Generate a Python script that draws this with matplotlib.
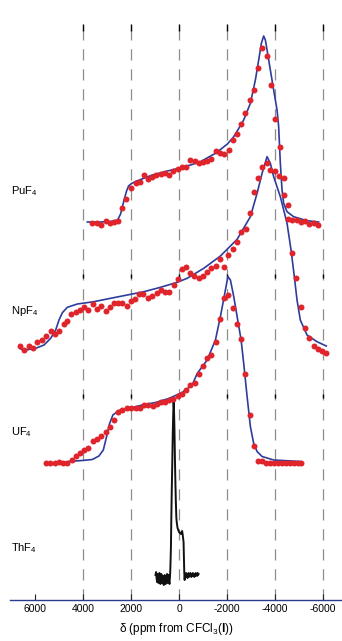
import matplotlib
matplotlib.use("Agg")
import matplotlib.pyplot as plt
import numpy as np

plt.rcParams['font.family'] = ['Liberation Sans', 'DejaVu Sans']
plt.rcParams['mathtext.fontset'] = 'custom'
plt.rcParams['mathtext.rm'] = 'Liberation Sans'
plt.rcParams['mathtext.it'] = 'Liberation Sans:italic'
plt.rcParams['mathtext.bf'] = 'Liberation Sans:bold'

# ---------------- data (ppm, intensity above own baseline) ----------------
pu_pts_ppm = [3611, 3432, 3266, 3058, 2891, 2712, 2546, 2363, 2196, 2018, 1810, 1643, 1464, 1281,
              1115, 948, 770, 591, 424, 241, 62, -133, -300, -478, -657, -824, -1007, -1173,
              -1340, -1531, -1726, -1893, -2072, -2238, -2421, -2600, -2766, -2945, -3112,
              -3295, -3461, -3652, -3819, -4014, -4193, -4360, -4526, -4543, -4722, -4900,
              -5067, -5250, -5429, -5608, -5774]
pu_pts_int = [0, 0, -2, 2, 0, 1, 2, 15, 24, 35, 40, 41, 48, 44,
              46, 48, 49, 50, 48, 52, 54, 56, 56, 63, 62, 60, 61, 62,
              64, 72, 70, 69, 73, 83, 89, 99, 110, 123, 133,
              155, 175, 167, 138, 104, 76, 28, 18, 4, 3, 3,
              1, 2, -1, 0, -2]
pu_fit_ppm = [3819, 3266, 2850, 2558, 2434, 2350, 2267, 2184, 2101, 1976, 1810, 1115, 562, 8,
              -478, -894, -1518, -1726, -2018, -2280, -2475, -2696, -2974, -3182, -3320, -3432,
              -3528, -3598, -3669, -3806, -3944, -4085, -4152, -4222, -4293, -4360, -4501,
              -4776, -5333, -5816]
pu_fit_int = [1, 1, 1.5, 3, 9, 17, 25, 32, 37, 39.5, 41.5, 48, 51.5, 54.7,
              58, 61.3, 69.7, 73.5, 79, 86.3, 94, 103, 119.7, 143, 163, 179.7,
              187, 183, 173, 153, 133, 113, 96.3, 59.7, 33, 19.7, 11.3,
              6.3, 2.3, 1]

np_pts_ppm = [6623, 6456, 6248, 6065, 5899, 5720, 5541, 5346, 5179, 5000, 4792, 4651, 4484, 4306,
              4139, 3960, 3777, 3598, 3432, 3266, 3058, 2891, 2712, 2529, 2363, 2184, 2018, 1839,
              1656, 1489, 1298, 1115, 936, 770, 591, 408, 216, 42, -133, -300, -478, -645, -824,
              -990, -1173, -1352, -1531, -1697, -1893, -2059, -2238, -2421, -2588, -2779, -2945,
              -3128, -3295, -3474, -3669, -3806, -4002, -4181, -4360, -4722, -4888, -5067, -5233,
              -5429, -5608, -5791, -5970, -6136]
np_pts_int = [4, 0, 4, 2, 8, 10, 14, 19, 16, 19, 26, 29, 36, 38,
              40, 43, 40, 46, 41, 44, 39, 43, 47, 47, 47, 44, 49, 51,
              56, 56, 52, 54, 57, 60, 58, 58, 65, 71, 81.5, 83, 77, 74, 72,
              74, 78, 82, 84, 91, 83, 95, 101, 108, 118, 121, 137,
              158, 172, 183, 187, 180, 179, 174, 172, 97, 72, 43, 22,
              12, 4, 1, -1, -3]
np_fit_ppm = [6594, 6386, 5970, 5624, 5346, 5138, 5000, 4859, 4651, 4235, 3544, 2850, 2155, 1464,
              770, 75, -341, -1032, -1726, -2421, -2974, -3253, -3461, -3669, -3806, -3944,
              -4222, -4501, -4668, -4805, -4917, -5054, -5333, -5749, -6136]
np_fit_int = [1, 0, 1.7, 5, 11.7, 20, 30, 37.3, 42.7, 46, 48.3, 51.7, 55, 58.3,
              62.7, 67.7, 71.7, 81.7, 94, 110.7, 133.3, 156.7, 176.7, 193.3, 186.7, 173.3,
              153.3, 126.7, 100, 73.3, 50, 30, 15, 8.3, 4]

u_pts_ppm = [5554, 5375, 5179, 5000, 4817, 4651, 4472, 4306, 4127, 3944, 3777, 3586, 3420, 3236,
             3058, 2891, 2712, 2529, 2363, 2184, 1988, 1810, 1631, 1464, 1281, 1102, 936, 757,
             591, 424, 241, 50, -133, -300, -478, -653, -824, -1007, -1173, -1352, -1539, -1706,
             -1872, -2059, -2234, -2413, -2588, -2766, -2945, -3112, -3295, -3461, -3628, -3806,
             -3973, -4139, -4306, -4472, -4638, -4805, -4971, -5083]
u_pts_int = [0, 0, 0, 1, 0, 0, 2.5, 7, 10, 12.5, 15, 21.5, 24, 27,
             31, 36, 42.5, 51, 52.5, 55, 54.5, 54.5, 55, 58, 57.5, 57, 58.5, 60.5,
             61, 63, 64, 67, 69, 72.5, 77.5, 79.5, 89, 97, 105, 107.5, 121, 143.5,
             165, 168, 155, 139, 123.5, 89, 48, 17, 1.5, 2, -0.5, -0.5,
             -0.5, -0.5, -0.5, -0.5, -0.5, -0.5, -0.5, -0.5]
u_fit_ppm = [4597, 4027, 3611, 3336, 3153, 3016, 2891, 2754, 2504, 2088, 1531, 978, 424, -133,
             -549, -757, -1173, -1518, -1726, -1934, -2038, -2142, -2280, -2446, -2588, -2696,
             -2837, -2974, -3112, -3253, -3461, -3944, -5054]
u_fit_int = [1, 2, 3, 6.5, 12.5, 26, 39, 47.5, 52, 54, 57.5, 60, 64, 70,
             77.5, 89, 102.5, 122.5, 146, 172.5, 186, 182.5, 166, 142.5, 122.5, 99,
             66, 36, 19, 11, 6, 2.5, 1]

th_ppm = [980, 955, 935, 915, 895, 875, 855, 835, 815, 795, 775, 755, 735, 715, 695, 675, 655,
          635, 615, 595, 575, 555, 535, 515, 495, 475, 455, 435, 415, 395, 380, 365, 350,
          335, 320, 300, 280, 260, 240, 225, 210, 190, 170, 150, 130, 110, 90, 60, 30, 0,
          -40, -80, -110, -130, -150, -170, -190, -205, -220, -235, -255, -275, -295, -315,
          -335, -355, -375, -395, -415, -435, -455, -475, -495, -515, -535, -555, -575, -595,
          -615, -635, -655, -675, -695, -715, -735, -755, -775, -795, -815]
th_int = [3, 6, 0, -4, 4, 1, -5, 2, 5, -2, -6, 0, 4, -3, -5, 2, -4, -7, 0, 3, -2, -6, 2, -3, 4,
          -5, -1, 3, -4, -6, 0, 6, 18, 32, 60, 90, 115, 145, 165, 176, 170, 150, 120, 95, 75, 60,
          55, 50, 48, 46, 45, 44, 46, 47, 44, 40, 36, 20, 5, -2, 4, 1, 5, 2, 4, 0, 3, 5, 1, 4, 2,
          5, 3, 1, 4, 2, 5, 3, 4, 1, 4, 2, 5, 3, 4, 2, 5, 3, 4]

labels = ['PuF$_4$', 'NpF$_4$', 'UF$_4$', 'ThF$_4$']
xticks = [6000, 4000, 2000, 0, -2000, -4000, -6000]
xticklabels = ['6000', '4000', '2000', '0', '-2000', '-4000', '-6000']
grid_ppm = [4000, 2000, 0, -2000, -4000, -6000]

# ---------------- layout ----------------
W, H = 342, 641
fig = plt.figure(figsize=(W / 100, H / 100), dpi=100)
ax = fig.add_axes([10 / W, (H - 600) / H, 332 / W, 580 / H])
ax.set_xlim(7041, -6791)
ax.set_ylim(0, 580)

offsets = [377, 250, 137.5, 22]
label_y = [409, 289, 168, 52]

blue = '#2e3c9c'
red = '#e0242c'

# grid dashed lines
ax.vlines(grid_ppm, 0, 574, colors='#8c8c8c', linewidth=0.9,
          linestyles=(0, (9, 7)), zorder=1)
# small solid ticks
for yy0, yy1 in [(569, 576), (322, 326), (202, 206)]:
    ax.vlines(grid_ppm, yy0, yy1, colors='black', linewidth=1.0, zorder=1)

series = [(pu_pts_ppm, pu_pts_int, pu_fit_ppm, pu_fit_int),
          (np_pts_ppm, np_pts_int, np_fit_ppm, np_fit_int),
          (u_pts_ppm, u_pts_int, u_fit_ppm, u_fit_int)]
for off, (pp, pi, fp, fi) in zip(offsets[:3], series):
    ax.plot(fp, np.array(fi) + off, color=blue, lw=1.2, zorder=3)
    ax.plot(pp, np.array(pi) + off, 'o', color=red, ms=4.3, mew=0, zorder=4)

ax.plot(th_ppm, np.array(th_int) + offsets[3], color='#111111', lw=1.4, zorder=3)

for lab, ly in zip(labels, label_y):
    ax.text(6990, ly, lab, fontsize=8, ha='left', va='center')

for s in ['left', 'right', 'top']:
    ax.spines[s].set_visible(False)
ax.spines['bottom'].set_color('#2b3990')
ax.spines['bottom'].set_linewidth(1.0)
ax.set_yticks([])
ax.set_xticks(xticks)
ax.set_xticklabels(xticklabels, fontsize=7.5)
ax.tick_params(axis='x', direction='in', length=4, width=0.8, pad=3, color='#222222')
ax.set_xlabel(r'δ (ppm from CFCl$_3$($\mathbf{l}$))', fontsize=8.5, labelpad=5)

fig.savefig('out.png', dpi=100)
